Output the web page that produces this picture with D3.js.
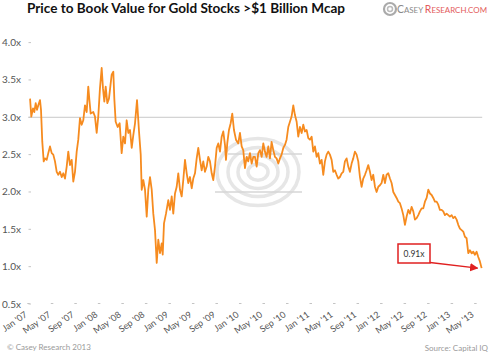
<!DOCTYPE html>
<html>
<head>
<meta charset="utf-8">
<script src="https://cdn.jsdelivr.net/npm/d3@7"></script>
<style>
  html, body { margin: 0; padding: 0; background: #fff; }
  svg { display: block; }
  text { font-family: Lato, "Open Sans", sans-serif; }
</style>
</head>
<body>
<svg id="chart" width="491" height="355"></svg>
<script>
// ---- data (months since Jan 2007, price-to-book multiple) ----
const title = "Price to Book Value for Gold Stocks >$1 Billion Mcap";
const yTickValues = [0.5, 1.0, 1.5, 2.0, 2.5, 3.0, 3.5, 4.0];
const yTickLabels = ["0.5x", "1.0x", "1.5x", "2.0x", "2.5x", "3.0x", "3.5x", "4.0x"];
const xTickMonths = [0, 4, 8, 12, 16, 20, 24, 28, 32, 36, 40, 44, 48, 52, 56, 60, 64, 68, 72, 76];
const xTickLabels = ["Jan '07", "May '07", "Sep '07", "Jan '08", "May '08", "Sep '08", "Jan '09", "May '09", "Sep '09", "Jan '10",
  "May '10", "Sep '10", "Jan '11", "May '11", "Sep '11", "Jan '12", "May '12", "Sep '12", "Jan '13", "May '13"];

const months = [
  0.3, 0.51, 0.80, 1.02, 1.26, 1.48, 1.70, 1.99, 2.16, 2.38,
  2.62, 2.84, 3.13, 3.40, 3.69, 3.98, 4.25, 4.54, 4.83, 5.10,
  5.39, 5.68, 5.95, 6.24, 6.53, 6.80, 7.09, 7.38, 7.65, 7.94,
  8.23, 8.50, 8.79, 9.08, 9.35, 9.64, 9.93, 10.20, 10.37, 10.61,
  11.05, 11.34, 11.63, 11.90, 12.19, 12.48, 12.70, 12.93, 13.16, 13.44,
  13.72, 13.95, 14.18, 14.46, 14.63, 14.86, 15.20, 15.54, 15.88, 16.16,
  16.45, 16.73, 17.01, 17.30, 17.59, 17.86, 18.15, 18.49, 18.83, 19.12,
  19.29, 19.56, 19.85, 20.14, 20.41, 20.70, 20.99, 21.26, 21.55, 21.84,
  22.11, 22.40, 22.69, 22.86, 23.08, 23.42, 23.81, 24.10, 24.39, 24.66,
  24.95, 25.24, 25.51, 25.80, 26.09, 26.36, 26.65, 26.94, 27.21, 27.50,
  27.79, 28.06, 28.35, 28.64, 28.91, 29.20, 29.49, 29.76, 30.05, 30.34,
  30.61, 30.90, 31.19, 31.46, 31.75, 32.04, 32.31, 32.60, 32.89, 33.16,
  33.45, 33.62, 33.84, 34.13, 34.42, 34.69, 34.98, 35.32, 35.71, 36.00,
  36.29, 36.56, 36.85, 37.14, 37.41, 37.70, 37.99, 38.27,
  38.55, 38.84, 39.12, 39.40, 39.69, 39.97, 40.25, 40.53, 40.82, 41.10,
  41.38, 41.67, 41.95, 42.23, 42.52, 42.80, 43.08, 43.37, 43.65, 43.93,
  44.22, 44.50, 44.78, 45.07, 45.35, 45.64, 45.92, 46.20, 46.49, 46.77,
  47.05, 47.34, 47.62, 47.90, 48.19, 48.47, 48.75, 49.04, 49.32, 49.60,
  49.89, 50.17, 50.45, 50.74, 51.02, 51.30, 51.59, 51.87, 52.15, 52.44,
  52.72, 53.00, 53.29, 53.57, 53.85, 54.14, 54.42, 54.70, 54.99, 55.27,
  55.55, 55.84, 56.12, 56.41, 56.69, 56.97, 57.26, 57.54, 57.82, 58.11,
  58.39, 58.67,
  58.96, 59.24, 59.53, 59.81, 60.09, 60.38, 60.66, 60.94, 61.23, 61.51,
  61.79, 62.08, 62.36, 62.64, 62.93, 63.21, 63.49, 63.78, 64.06, 64.34,
  64.63, 64.91, 65.19, 65.48, 65.76, 66.05, 66.33, 66.61, 66.90, 67.18,
  67.46, 67.75, 68.03, 68.31, 68.60, 68.88, 69.16, 69.45, 69.73, 70.01,
  70.30, 70.58, 70.86, 71.15, 71.43, 71.71, 72.00, 72.28, 72.56, 72.85,
  73.13, 73.41, 73.70, 73.98, 74.26, 74.55, 74.83, 75.11, 75.40, 75.68,
  75.96, 76.25, 76.53, 76.81, 77.10
];

const pbValues = [
  3.25, 3.01, 3.12, 3.07, 3.19, 3.10, 3.16, 3.23, 3.10, 2.67,
  2.41, 2.45, 2.43, 2.52, 2.61, 2.52, 2.50, 2.41, 2.27, 2.23,
  2.27, 2.20, 2.25, 2.18, 2.34, 2.54, 2.36, 2.43, 2.14, 2.27,
  2.54, 2.70, 2.99, 2.90, 2.96, 3.16, 3.07, 3.41, 3.25, 3.05,
  3.07, 3.01, 2.79, 3.01, 3.39, 3.66, 3.39, 3.21, 3.41, 3.19,
  3.25, 3.41, 3.57, 3.61, 3.25, 2.94, 2.87, 2.92, 2.52, 2.74,
  2.65, 2.96, 2.79, 2.83, 2.59, 2.76, 2.92, 3.23, 2.81, 2.50,
  2.03, 2.16, 2.03, 1.67, 2.03, 2.20, 2.03, 1.71, 1.49, 1.05,
  1.36, 1.18, 1.31, 1.16, 1.58, 1.71, 1.89, 1.76, 1.94, 1.71,
  1.98, 2.07, 2.25, 2.03, 1.94, 2.16, 2.43, 2.25, 2.12, 2.20,
  2.05, 2.18, 2.25, 2.45, 2.59, 2.43, 2.29, 2.41, 2.27, 2.34,
  2.47, 2.41, 2.25, 2.16, 2.34, 2.59, 2.65, 2.54, 2.74, 2.81,
  2.63, 2.43, 2.65, 2.83, 2.92, 3.05, 2.83, 2.70, 2.65, 2.79,
  2.61, 2.56, 2.32, 2.47, 2.41, 2.52, 2.38, 2.47,
  2.47, 2.34, 2.52, 2.56, 2.47, 2.65, 2.54, 2.47, 2.61, 2.45,
  2.67, 2.56, 2.47, 2.45, 2.38, 2.45, 2.50, 2.59, 2.63, 2.70,
  2.87, 2.94, 3.01, 3.16, 3.03, 2.94, 2.74, 2.87, 2.79, 2.90,
  2.81, 2.83, 2.72, 2.70, 2.74, 2.54, 2.61, 2.47, 2.52, 2.38,
  2.43, 2.23, 2.41, 2.50, 2.54, 2.50, 2.43, 2.27, 2.29, 2.23,
  2.18, 2.20, 2.25, 2.27, 2.41, 2.45, 2.34, 2.27, 2.38, 2.45,
  2.54, 2.50, 2.41, 2.20, 2.07, 2.18, 2.23, 2.29, 2.36, 2.27,
  2.16, 2.23,
  2.07, 2.00, 2.07, 2.09, 2.12, 2.23, 2.12, 2.23, 2.25, 2.18,
  2.12, 2.00, 1.96, 1.92, 1.87, 1.85, 1.78, 1.69, 1.56, 1.67,
  1.76, 1.71, 1.80, 1.74, 1.63, 1.65, 1.69, 1.74, 1.78, 1.78,
  1.87, 1.92, 2.03, 1.98, 1.96, 1.92, 1.87, 1.87, 1.83, 1.76,
  1.76, 1.74, 1.69, 1.71, 1.69, 1.67, 1.69, 1.65, 1.67, 1.63,
  1.56, 1.51, 1.49, 1.47, 1.40, 1.38, 1.18, 1.22, 1.18, 1.20,
  1.16, 1.20, 1.13, 1.07, 0.98
];

const gridValue = 3.0;
const annotationText = "0.91x";
const footerLeft = "\u00A9 Casey Research 2013";
const footerRight = "Source: Capital IQ";

// ---- drawing ----
const svg = d3.select("#chart");
const x = d3.scaleLinear().domain([0, 77.2]).range([28.3, 482.2]);
const y = d3.scaleLinear().domain([0.5, 4.0]).range([304, 42.6]);

// title
svg.append("text")
  .attr("x", 27).attr("y", 13)
  .attr("font-size", 13).attr("font-weight", "bold").attr("fill", "#111")
  .attr("textLength", 318).attr("lengthAdjust", "spacingAndGlyphs")
  .text(title);

// logo
const logo = svg.append("g");
logo.append("circle").attr("cx", 390).attr("cy", 9).attr("r", 6).attr("fill", "none").attr("stroke", "#aaa").attr("stroke-width", 2.2);
logo.append("circle").attr("cx", 390).attr("cy", 9).attr("r", 2.5).attr("fill", "none").attr("stroke", "#bbb").attr("stroke-width", 1.5);
const logoText = logo.append("text").attr("x", 397).attr("y", 13)
  .attr("font-family", "'Liberation Serif', serif").attr("font-size", 8)
  .attr("textLength", 90).attr("lengthAdjust", "spacingAndGlyphs");
logoText.append("tspan").attr("fill", "#8a8a8a").attr("font-size", 10.5).text("C");
logoText.append("tspan").attr("fill", "#8a8a8a").text("ASEY ");
logoText.append("tspan").attr("fill", "#e35b5b").attr("font-size", 10.5).text("R");
logoText.append("tspan").attr("fill", "#e35b5b").text("ESEARCH.COM");

// watermark
const wm = svg.append("g").attr("fill", "none").attr("stroke", "#e6e6e6").attr("stroke-width", 3.5);
[10, 20, 30, 41].forEach(r => {
  wm.append("ellipse").attr("cx", 258).attr("cy", 172).attr("rx", r).attr("ry", r * 0.82);
});
wm.append("line").attr("x1", 228).attr("x2", 302).attr("y1", 154).attr("y2", 154).attr("stroke", "#d6d6d6").attr("stroke-width", 1.5);
wm.append("line").attr("x1", 215).attr("x2", 302).attr("y1", 192).attr("y2", 192).attr("stroke", "#d6d6d6").attr("stroke-width", 1.5);

// 3.0x gridline
svg.append("line")
  .attr("x1", x(0)).attr("x2", x(77.2))
  .attr("y1", y(gridValue)).attr("y2", y(gridValue))
  .attr("stroke", "#c8c8c8").attr("stroke-width", 1);

// y axis labels + tick marks
const yg = svg.append("g");
yg.selectAll("text").data(yTickValues).enter().append("text")
  .attr("x", 21).attr("y", d => y(d)).attr("dy", "0.35em")
  .attr("text-anchor", "end").attr("font-size", 10).attr("fill", "#555")
  .text((d, i) => yTickLabels[i]);
yg.selectAll("line").data(yTickValues).enter().append("line")
  .attr("x1", 28.5).attr("x2", 31).attr("y1", d => y(d)).attr("y2", d => y(d))
  .attr("stroke", "#c4c4c4").attr("stroke-width", 1);

// x axis tick marks + labels
const xg = svg.append("g");
xg.selectAll("line").data(xTickMonths).enter().append("line")
  .attr("x1", d => x(d) - 1).attr("x2", d => x(d) + 1.5)
  .attr("y1", 303.5).attr("y2", 303.5)
  .attr("stroke", "#c4c4c4").attr("stroke-width", 1);
xg.selectAll("text").data(xTickMonths).enter().append("text")
  .attr("transform", d => `translate(${x(d) - 0.5},${316}) rotate(-35)`)
  .attr("text-anchor", "end").attr("font-size", 9).attr("fill", "#555")
  .text((d, i) => xTickLabels[i]);

// line
const pts = months.map((m, i) => [m, pbValues[i]]);
svg.append("path")
  .datum(pts)
  .attr("fill", "none").attr("stroke", "#f68b1f").attr("stroke-width", 1.8)
  .attr("stroke-linejoin", "round")
  .attr("d", d3.line().x(d => x(d[0])).y(d => y(d[1])));

// annotation
const lastPt = pts[pts.length - 1];
svg.append("defs").append("marker")
  .attr("id", "arrow").attr("viewBox", "0 0 10 10").attr("refX", 9).attr("refY", 5)
  .attr("markerWidth", 6).attr("markerHeight", 6).attr("orient", "auto")
  .append("path").attr("d", "M0,0 L10,5 L0,10 z").attr("fill", "#e02020");
svg.append("line")
  .attr("x1", 430).attr("y1", 262.5)
  .attr("x2", x(lastPt[0]) - 4).attr("y2", y(lastPt[1]))
  .attr("stroke", "#e02020").attr("stroke-width", 1.4)
  .attr("marker-end", "url(#arrow)");
svg.append("rect")
  .attr("x", 398).attr("y", 244).attr("width", 32).attr("height", 19)
  .attr("fill", "#fff").attr("stroke", "#e02020").attr("stroke-width", 1.5);
svg.append("text")
  .attr("x", 414).attr("y", 257).attr("text-anchor", "middle")
  .attr("font-size", 8.5).attr("fill", "#333").text(annotationText);

// footers
svg.append("text").attr("x", 7).attr("y", 350).attr("font-size", 8).attr("fill", "#9a9a9a").text(footerLeft);
svg.append("text").attr("x", 488).attr("y", 351).attr("text-anchor", "end").attr("font-size", 8).attr("fill", "#9a9a9a").text(footerRight);
</script>
</body>
</html>
